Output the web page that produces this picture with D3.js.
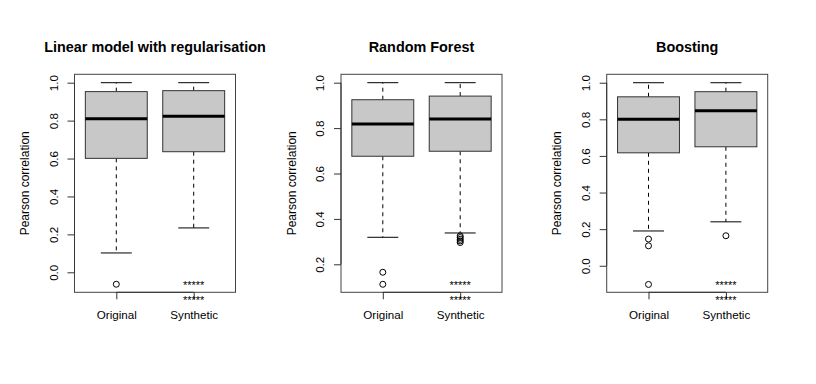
<!DOCTYPE html>
<html><head><meta charset="utf-8">
<script src="https://cdn.jsdelivr.net/npm/d3@7"></script>
<style>
body{margin:0;background:#fff;}
svg text{font-family:"Liberation Sans",Arial,sans-serif;fill:#000;}
</style></head>
<body><svg id="c" width="816" height="384"></svg>
<script>
const panelTitles = ["Linear model with regularisation", "Random Forest", "Boosting"];
const groups = ["Original", "Synthetic"];
const whiskerLow  = [[0.102, 0.234], [0.319, 0.338], [0.190, 0.240]];
const quartile1   = [[0.601, 0.636], [0.676, 0.698], [0.617, 0.650]];
const medians     = [[0.810, 0.823], [0.818, 0.840], [0.800, 0.847]];
const quartile3   = [[0.953, 0.958], [0.925, 0.941], [0.923, 0.951]];
const whiskerHigh = [[1.0, 1.0], [1.0, 1.0], [1.0, 1.0]];
const outliers = [
  [[-0.063], []],
  [[0.165, 0.112], [0.325, 0.318, 0.310, 0.303, 0.296]],
  [[0.146, 0.109, -0.102], [0.164]]
];
const yTicks = [[0, 0.2, 0.4, 0.6, 0.8, 1.0], [0.2, 0.4, 0.6, 0.8, 1.0], [0, 0.2, 0.4, 0.6, 0.8, 1.0]];
const yDomains = [[-0.1055, 1.0443], [0.0767, 1.037], [-0.145, 1.046]];
const signif = "*****";
const yLabel = "Pearson correlation";

(function () {
const svg = d3.select("#c");
const lefts = [74.5, 341, 606.7];
const pw = 161, pTop = 74.3, pBottom = 292.3;

panelTitles.forEach((title, p) => {
  const L = lefts[p];
  const x = d3.scaleLinear().domain([0.46, 2.54]).range([L, L + pw]);
  const y = d3.scaleLinear().domain(yDomains[p]).range([pBottom, pTop]);
  const g = svg.append("g");
  const bw = (x(1.4) - x(0.6));

  g.append("text").attr("x", x(1.5)).attr("y", 51.5).attr("text-anchor", "middle")
    .style("font-weight", "bold").style("font-size", "14.4px").text(title);

  groups.forEach((grp, i) => {
    const cx = x(i + 1);
    g.append("line").attr("x1", cx).attr("x2", cx).attr("y1", y(quartile1[p][i])).attr("y2", y(whiskerLow[p][i]))
      .attr("stroke", "#000").attr("stroke-dasharray", "4,4");
    g.append("line").attr("x1", cx).attr("x2", cx).attr("y1", y(quartile3[p][i])).attr("y2", y(whiskerHigh[p][i]))
      .attr("stroke", "#000").attr("stroke-dasharray", "4,4");
    [whiskerLow[p][i], whiskerHigh[p][i]].forEach(v => {
      g.append("line").attr("x1", cx - bw / 4).attr("x2", cx + bw / 4).attr("y1", y(v)).attr("y2", y(v))
        .attr("stroke", "#000");
    });
    g.append("rect").attr("x", cx - bw / 2).attr("width", bw)
      .attr("y", y(quartile3[p][i])).attr("height", y(quartile1[p][i]) - y(quartile3[p][i]))
      .attr("fill", "#c8c8c8").attr("stroke", "#333").attr("stroke-width", 1);
    g.append("line").attr("x1", cx - bw / 2).attr("x2", cx + bw / 2)
      .attr("y1", y(medians[p][i])).attr("y2", y(medians[p][i]))
      .attr("stroke", "#000").attr("stroke-width", 3);
    g.selectAll(null).data(outliers[p][i]).enter().append("circle")
      .attr("cx", cx).attr("cy", d => y(d)).attr("r", 3)
      .attr("fill", "none").attr("stroke", "#000").attr("stroke-width", 1);
  });

  g.append("rect").attr("x", L).attr("y", pTop).attr("width", pw).attr("height", pBottom - pTop)
    .attr("fill", "none").attr("stroke", "#444").attr("stroke-width", 1);

  const ya = d3.axisLeft(y).tickValues(yTicks[p]).tickSize(7).tickFormat(d3.format(".1f"));
  const yg = g.append("g").attr("transform", `translate(${L},0)`).call(ya);
  yg.select(".domain").attr("d", `M0,${y(yTicks[p][0])}V${y(yTicks[p][yTicks[p].length - 1])}`).attr("stroke", "#333");
  yg.selectAll(".tick line").attr("stroke", "#333");
  yg.selectAll(".tick text").attr("x", 0).attr("dy", null)
    .attr("transform", `translate(-21.5,0) rotate(-90)`)
    .attr("text-anchor", "middle").attr("dominant-baseline", "central")
    .style("font-size", "11.6px").style("font-family", '"Liberation Sans",Arial,sans-serif');

  const xa = d3.axisBottom(x).tickValues([1, 2]).tickSize(7).tickFormat((d) => groups[d - 1]);
  const xg = g.append("g").attr("transform", `translate(0,${pBottom})`).call(xa);
  xg.select(".domain").attr("d", `M${x(1)},0H${x(2)}`).attr("stroke", "#333");
  xg.selectAll(".tick line").attr("stroke", "#333");
  xg.selectAll(".tick text").attr("y", 26.5).attr("dy", null)
    .style("font-size", "11.6px").style("font-family", '"Liberation Sans",Arial,sans-serif');

  g.append("text").attr("transform", `translate(${L - 49.5},${(pTop + pBottom) / 2}) rotate(-90)`)
    .attr("text-anchor", "middle").attr("dominant-baseline", "central")
    .style("font-size", "12px").text(yLabel);

  g.append("text").attr("x", x(2)).attr("y", pBottom - 3.5).attr("text-anchor", "middle")
    .style("font-size", "11px").text(signif);
  g.append("text").attr("x", x(2)).attr("y", pBottom + 12).attr("text-anchor", "middle")
    .style("font-size", "11px").text(signif);
});
})();
</script></body></html>
